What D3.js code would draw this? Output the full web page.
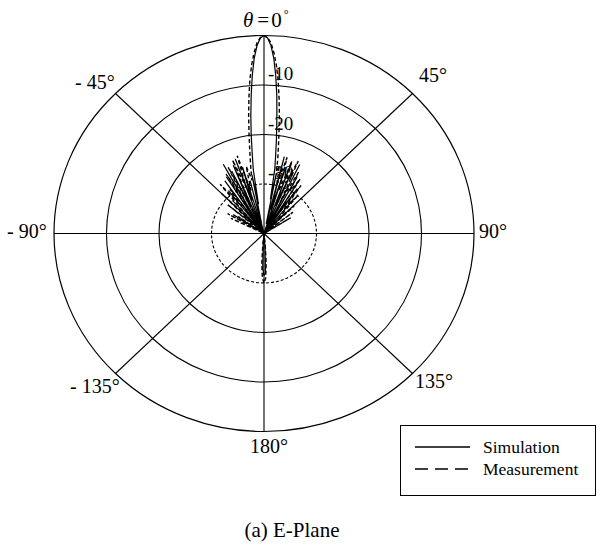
<!DOCTYPE html>
<html>
<head>
<meta charset="utf-8">
<script src="https://cdn.jsdelivr.net/npm/d3@7"></script>
<style>
  body { margin: 0; background: #fff; }
</style>
</head>
<body>
<div id="chart"></div>
<script>
// pattern data (angle in degrees, gain in dB, -40 dB floor at centre)
var simAngles = [-180, -178, -176, -174, -60, -57, -55, -50, -46, -45, -42, -41, -38, -37, -35, -34, -32, -31,
                 -29, -28, -26, -25, -23, -22, -20, -19, -17, -16, -14, -13, -11, -10, -9, -8, -7, -6, -5,
                 -4, -3, -2, -1, 0, 1, 2, 3, 4, 5, 6, 7, 8, 9, 10, 11, 12, 14, 15, 17, 18, 20, 21, 23, 24,
                 26, 27, 29, 30, 32, 33, 35, 36, 39, 40, 44, 45, 174, 176, 178, 180];
var simDb = [-31.5, -33, -38, -40, -40, -33, -40, -40, -35, -40, -31, -40, -29, -38, -27, -40, -26.5, -36,
             -24, -40, -26, -34, -25, -40, -24, -33, -26, -40, -29, -38, -28, -34, -27, -24, -20, -16, -12,
             -8, -4.5, -2, -0.5, 0, -0.5, -2, -4.5, -8, -12, -16.5, -20.5, -24, -27, -33, -28, -38, -24, -35,
             -26, -40, -24.5, -34, -26, -40, -24.5, -37, -27, -40, -27.5, -36, -29, -40, -31, -40, -34, -40,
             -40, -37, -32, -31.5];

var measAngles = [-180, -178, -176, -174, -172, -70, -64, -62, -60, -58, -55, -53, -50, -48, -45, -43, -40,
                  -38, -36, -34, -31, -29, -27, -25, -22, -20, -18, -16, -14, -12, -11, -10, -9, -8, -7, -6,
                  -5, -4, -3, -2, -1, 0, 1, 2, 3, 4, 5, 6, 7, 8, 9, 10, 11, 12, 14, 16, 18, 20, 22, 24, 26,
                  28, 30, 32, 34, 36, 38, 40, 43, 46, 48, 52, 55, 58, 62, 172, 174, 176, 178, 180];
var measDb = [-30, -31, -34, -38, -40, -40, -33, -40, -32, -38, -34, -40, -31, -37, -28.5, -36, -27,
              -33, -29, -38, -26, -32, -25, -35, -24, -30, -23.5, -31, -26, -29, -27, -25, -22.5, -19.5, -16, -12.5,
              -9, -6, -3.5, -1.5, -0.4, 0, -0.4, -1.5, -3.5, -6, -9, -12.5, -16, -19.5, -22.5, -25, -28, -26,
              -30, -24, -31, -24.5, -29, -24, -33, -26, -30, -27, -36, -28, -34, -30, -37, -32, -40, -33, -40,
              -34, -40, -40, -38, -34, -31, -30];

var rings = [-10, -20, -30];
var spokes = [0, 45, 90, 135, 180, 225, 270, 315];
var angleLabels = ["θ", "45°", "90°", "135°", "180°", "- 135°", "- 90°", "- 45°"];
var seriesNames = ["Simulation", "Measurement"];

var W = 597, H = 557;
var cx = 264, cy = 233.5, rx = 210, ry = 198;
var serif = "'Liberation Serif', 'Times New Roman', Times, 'DejaVu Serif', serif";

var svg = d3.select("#chart").append("svg")
  .attr("width", W)
  .attr("height", H)
  .style("font-family", serif);

var r = d3.scaleLinear().domain([-40, 0]).range([0, 1]).clamp(true);

function px(a, db) { return cx + rx * r(db) * Math.sin(a * Math.PI / 180); }
function py(a, db) { return cy - ry * r(db) * Math.cos(a * Math.PI / 180); }

var grid = svg.append("g").attr("fill", "none").attr("stroke", "#000");

// outer and inner rings
grid.append("ellipse")
  .attr("cx", cx).attr("cy", cy)
  .attr("rx", rx * r(0)).attr("ry", ry * r(0))
  .attr("stroke-width", 1.2);

grid.selectAll("ellipse.ring")
  .data(rings)
  .enter().append("ellipse")
  .attr("class", "ring")
  .attr("cx", cx).attr("cy", cy)
  .attr("rx", d => rx * r(d)).attr("ry", d => ry * r(d))
  .attr("stroke-width", 1.1)
  .attr("stroke-dasharray", d => d == -30 ? "3,2" : null);

// spokes
grid.selectAll("line")
  .data(spokes)
  .enter().append("line")
  .attr("x1", cx).attr("y1", cy)
  .attr("x2", d => px(d, 0)).attr("y2", d => py(d, 0))
  .attr("stroke-width", 1.1);

// ring labels
svg.selectAll("text.ring")
  .data(rings)
  .enter().append("text")
  .attr("class", "ring")
  .attr("x", cx + 4)
  .attr("y", d => cy - ry * r(d) - 5)
  .attr("font-size", 19)
  .text(d => d);

// angle labels
var labelPos = [
  null,
  [419, 82, "start"],
  [479, 238, "start"],
  [415, 388, "start"],
  [250, 453, "start"],
  [70, 393, "start"],
  [7, 238, "start"],
  [75, 89, "start"]
];
spokes.forEach(function(s, i) {
  if (!labelPos[i]) return;
  svg.append("text")
    .attr("x", labelPos[i][0])
    .attr("y", labelPos[i][1])
    .attr("text-anchor", labelPos[i][2])
    .attr("font-size", 20)
    .text(angleLabels[i]);
});

// theta = 0 label
var t0 = svg.append("text")
  .attr("x", 243).attr("y", 27)
  .attr("font-size", 21);
t0.append("tspan").attr("font-style", "italic").text(angleLabels[0]);
t0.append("tspan").attr("dx", 4).text("=");
t0.append("tspan").attr("dx", 2).text("0");
t0.append("tspan").attr("dy", -9).attr("dx", 2).attr("font-size", 12).text("°");

// patterns
var line = d3.line()
  .x(d => px(d[0], d[1]))
  .y(d => py(d[0], d[1]));

var simPts = d3.zip(simAngles, simDb);
var measPts = d3.zip(measAngles, measDb);

svg.append("path")
  .datum(measPts)
  .attr("d", line)
  .attr("fill", "none")
  .attr("stroke", "#000")
  .attr("stroke-width", 1.4)
  .attr("stroke-dasharray", "4,2.5");

svg.append("path")
  .datum(simPts)
  .attr("d", line)
  .attr("fill", "none")
  .attr("stroke", "#000")
  .attr("stroke-width", 1.2);

// legend
var lg = svg.append("g");
lg.append("rect")
  .attr("x", 400.5).attr("y", 425.5)
  .attr("width", 195).attr("height", 70)
  .attr("fill", "#fff").attr("stroke", "#000").attr("stroke-width", 1);

seriesNames.forEach(function(name, i) {
  var y = 447 + i * 22;
  lg.append("line")
    .attr("x1", 415).attr("x2", 470)
    .attr("y1", y).attr("y2", y)
    .attr("stroke", "#000").attr("stroke-width", 1.4)
    .attr("stroke-dasharray", i == 1 ? "13,7" : null);
  lg.append("text")
    .attr("x", 483).attr("y", y + 6)
    .attr("font-size", 17.5)
    .text(name);
});

// caption
svg.append("text")
  .attr("x", 292).attr("y", 537)
  .attr("text-anchor", "middle")
  .attr("font-size", 21)
  .text("(a) E-Plane");
</script>
</body>
</html>
